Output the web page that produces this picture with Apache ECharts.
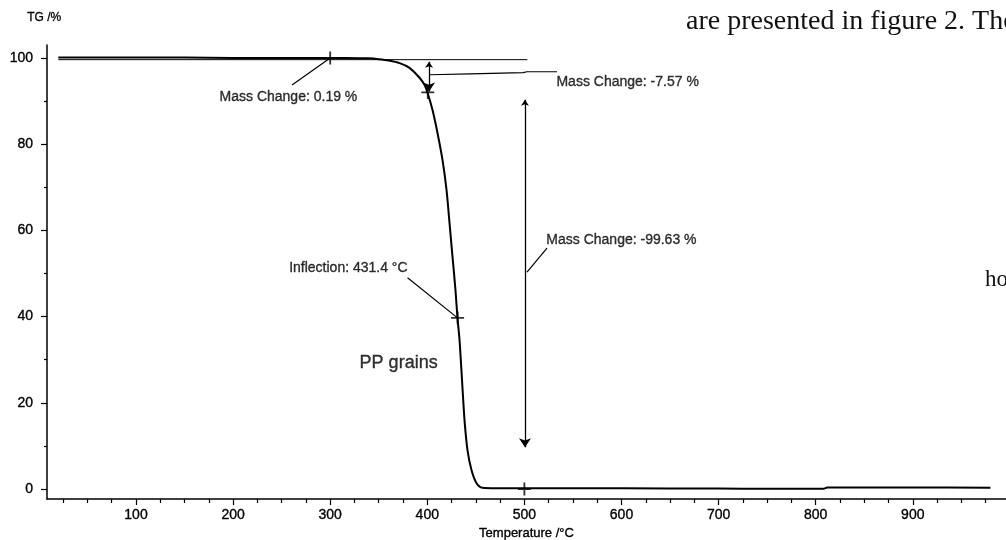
<!DOCTYPE html>
<html><head><meta charset="utf-8">
<script src="https://cdn.jsdelivr.net/npm/echarts@6/dist/echarts.min.js"></script>
<style>html,body{margin:0;padding:0;background:#fff}#c{width:1006px;height:540px}</style>
</head><body><div id="c"></div>
<script>
// ---- TG curve ----
const temperatureC = [20, 50, 100, 150, 200, 250, 300, 330, 340, 350, 360, 371.5, 381.7, 392, 397.2, 400.3, 405.4, 410.5, 415.7, 419.8, 422.9, 426, 429, 431.1, 433.2, 434.5, 436.5, 438.5, 441.4, 445.5, 450.6, 456.8, 470, 500, 600, 700, 750, 808, 812, 900, 980];
const massPercent  = [100.1, 100.1, 100.1, 100.1, 100.0, 100.0, 100.0, 99.95, 99.9, 99.7, 99.4, 98.8, 97.7, 95.4, 93.7, 91.9, 87.9, 82.6, 76.3, 69.4, 61.7, 53.8, 46.2, 39.7, 34.6, 30.0, 22.5, 15.5, 9.0, 4.4, 1.4, 0.3, 0.2, 0.2, 0.15, 0.1, 0.05, 0.05, 0.35, 0.35, 0.3];

// ---- ticks ----
const xMajorTicks = [100, 200, 300, 400, 500, 600, 700, 800, 900];
const xMinorTicks = [25, 50, 75, 125, 150, 175, 225, 250, 275, 325, 350, 375, 425, 450, 475, 525, 550, 575, 625, 650, 675, 725, 750, 775, 825, 850, 875, 925, 950, 975];
const yMajorTicks = [0, 20, 40, 60, 80, 100];
const yMinorTicks = [10, 30, 50, 70, 90];

// ---- annotations (data units) ----
const tangentUpper = [[20, 99.6], [503, 99.6]];
const tangentLower = [[402.8, 96.1], [444, 96.3], [498.6, 96.6], [502.7, 96.8], [533.6, 96.8]];
const crossPoints = [[300, 100], [400.5, 92], [431.2, 39.7], [500, 0]];
const arrowSmall = [[401.8, 99.1], [401.8, 92.2]];
const arrowLarge = [[500.6, 90.3], [500.6, 9.7]];
const leaderLines = [
  [[300, 100], [260.7, 93.7]],
  [[431.1, 39.7], [379.7, 49.0]],
  [[502.7, 50.3], [523.3, 55.9]]
];
const annotTexts = ['Mass Change: 0.19 %', 'Mass Change: -7.57 %', 'Mass Change: -99.63 %', 'Inflection: 431.4 °C', 'PP grains'];
const annotAnchors = [[257, 90.95], [533, 94.3], [522.6, 57.8], [379.7, 51.3], [330.3, 29.2]];
const annotAlign = ['center', 'left', 'left', 'right', 'left'];
const annotSize = [14, 14, 14, 14, 18];

const ink = '#000';
const font = '"Liberation Sans", Arial, sans-serif';
const serif = '"Liberation Serif", "DejaVu Serif", serif';
const heavy = {textBorderColor: '#000', textBorderWidth: 0.35};

const chart = echarts.init(document.getElementById('c'), null, {renderer: 'canvas'});
const curve = temperatureC.map((t, i) => [t, massPercent[i]]);

chart.setOption({
  animation: false,
  backgroundColor: '#fff',
  textStyle: {fontFamily: font, color: ink},
  grid: {left: 47, right: 0, top: 45, bottom: 41, containLabel: false, outerBoundsMode: 'none'},
  xAxis: [{
    type: 'value', min: 8.35, max: 996, position: 'bottom',
    axisLine: {show: true, onZero: false, lineStyle: {color: ink, width: 1.5}},
    axisTick: {show: true, customValues: xMajorTicks, length: 6, lineStyle: {color: ink, width: 1.2}},
    axisLabel: Object.assign({customValues: xMajorTicks, fontSize: 14, color: ink, margin: 9, fontFamily: font}, heavy),
    splitLine: {show: false},
    name: 'Temperature /°C', nameLocation: 'middle', nameGap: 27,
    nameTextStyle: Object.assign({fontSize: 13, color: ink, fontFamily: font}, heavy)
  }, {
    type: 'value', min: 8.35, max: 996, position: 'bottom', offset: 0,
    axisLine: {show: false, onZero: false},
    axisTick: {show: true, customValues: xMinorTicks, length: 4, lineStyle: {color: ink, width: 1.2}},
    axisLabel: {show: false},
    splitLine: {show: false}
  }],
  yAxis: [{
    type: 'value', min: -2.32, max: 103, position: 'left',
    axisLine: {show: true, onZero: false, lineStyle: {color: ink, width: 1.5}},
    axisTick: {show: true, customValues: yMajorTicks, length: 6, lineStyle: {color: ink, width: 1.2}},
    axisLabel: Object.assign({customValues: yMajorTicks, fontSize: 14, color: ink, margin: 14, fontFamily: font}, heavy),
    splitLine: {show: false}
  }, {
    type: 'value', min: -2.32, max: 103, position: 'left', offset: 0,
    axisLine: {show: false, onZero: false},
    axisTick: {show: true, customValues: yMinorTicks, length: 3, lineStyle: {color: ink, width: 1.2}},
    axisLabel: {show: false},
    splitLine: {show: false}
  }],
  graphic: [
    {type: 'text', left: 27, top: 12, style: {text: 'TG /%', fontSize: 12, fontFamily: font, fill: ink, stroke: '#000', lineWidth: 0.3}},
    {type: 'text', left: 686, top: 8, style: {text: 'are presented in figure 2. The', fontSize: 28, fontFamily: serif, fill: '#111'}},
    {type: 'text', left: 985, top: 268, style: {text: 'ho', fontSize: 23, fontFamily: serif, fill: '#111'}}
  ],
  series: [
    {
      type: 'line', name: 'TG', data: curve, showSymbol: false, symbol: 'none',
      smooth: 0.3, lineStyle: {color: ink, width: 2}, z: 5
    },
    {
      type: 'line', data: tangentUpper, showSymbol: false, symbol: 'none',
      lineStyle: {color: ink, width: 1}, z: 4
    },
    {
      type: 'line', data: tangentLower, showSymbol: false, symbol: 'none',
      lineStyle: {color: ink, width: 1.2}, z: 4
    },
    {
      type: 'lines', coordinateSystem: 'cartesian2d', polyline: false,
      data: leaderLines.map(c => ({coords: c})),
      lineStyle: {color: ink, width: 1.2, opacity: 1}, symbol: ['none', 'none'], z: 4
    },
    {
      type: 'lines', coordinateSystem: 'cartesian2d',
      data: [{coords: arrowSmall}, {coords: arrowLarge}],
      lineStyle: {color: ink, width: 1.3, opacity: 1},
      symbol: ['arrow', 'arrow'], symbolSize: [6, 9], z: 4
    },
    {
      type: 'scatter', data: crossPoints,
      symbol: 'path://M4.3,0 H5.7 V4.3 H10 V5.7 H5.7 V10 H4.3 V5.7 H0 V4.3 H4.3 Z',
      symbolSize: 13, itemStyle: {color: ink}, z: 6
    },
    {
      type: 'scatter', symbolSize: 0,
      data: annotAnchors.map((p, i) => ({
        value: p, name: annotTexts[i],
        label: Object.assign({show: true, position: 'inside', formatter: '{b}', align: annotAlign[i],
                verticalAlign: 'middle', fontSize: annotSize[i], color: ink, fontFamily: font}, heavy)
      })),
      z: 7
    }
  ]
});
</script>
</body></html>
